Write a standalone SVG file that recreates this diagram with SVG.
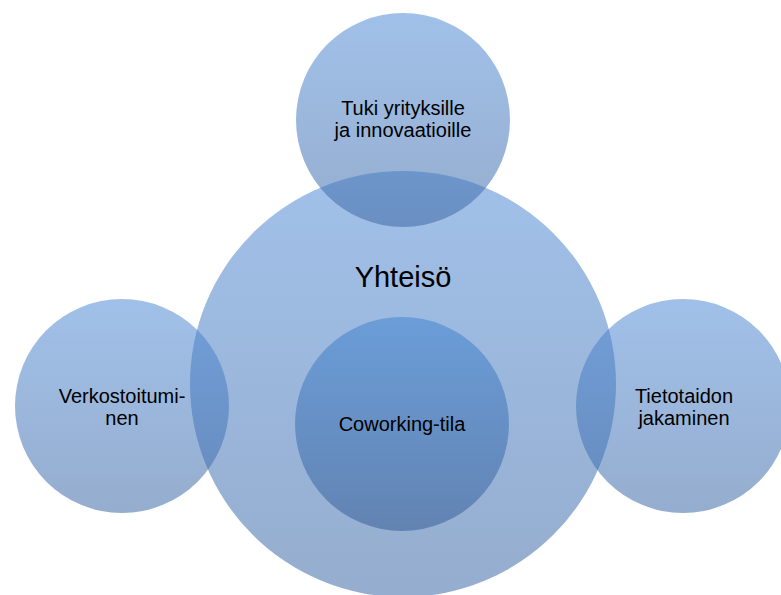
<svg xmlns="http://www.w3.org/2000/svg" width="781" height="595" viewBox="0 0 781 595">
  <defs>
    <linearGradient id="gLight" x1="0" y1="0" x2="0" y2="1">
      <stop offset="0" stop-color="#4a86d4" stop-opacity="0.52"/>
      <stop offset="1" stop-color="#3e6aa6" stop-opacity="0.55"/>
    </linearGradient>
    <linearGradient id="gInner" x1="0" y1="0" x2="0" y2="1">
      <stop offset="0" stop-color="#6b9dd8"/>
      <stop offset="1" stop-color="#6283b2"/>
    </linearGradient>
  </defs>
  <style>
    .light { fill: url(#gLight); }
    .inner { fill: url(#gInner); }
    text { font-family: "Liberation Sans", Arial, sans-serif; fill: #000; text-anchor: middle; }
    .s { font-size: 20px; }
    .l { font-size: 29px; }
  </style>
  <rect width="781" height="595" fill="#ffffff"/>
  <g id="yhteiso">
    <circle class="light" cx="403" cy="384" r="213"/>
    <text class="l" x="403" y="287">Yhteisö</text>
  </g>
  <g id="tuki">
    <circle class="light" cx="403" cy="120" r="107"/>
    <text class="s" x="403" y="115">Tuki yrityksille</text>
    <text class="s" x="403" y="137">ja innovaatioille</text>
  </g>
  <g id="verkostoituminen">
    <circle class="light" cx="122" cy="406" r="107"/>
    <text class="s" x="122" y="403">Verkostoitumi-</text>
    <text class="s" x="122" y="425">nen</text>
  </g>
  <g id="tietotaito">
    <circle class="light" cx="683" cy="406" r="107"/>
    <text class="s" x="684" y="403">Tietotaidon</text>
    <text class="s" x="684" y="425">jakaminen</text>
  </g>
  <g id="coworking">
    <circle class="inner" cx="402" cy="424" r="107"/>
    <text class="s" x="402" y="431">Coworking-tila</text>
  </g>
  <g id="connectors"/>
</svg>
